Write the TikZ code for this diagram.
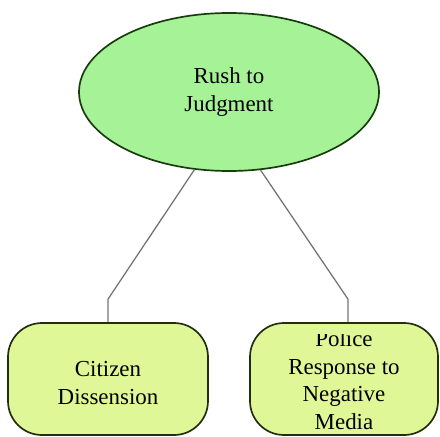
\documentclass[tikz,border=0pt]{standalone}
\usepackage{fontspec}
\setmainfont{Liberation Serif}
\usetikzlibrary{
    shapes.geometric,
    positioning,
    calc
}
\definecolor{topgreen}{RGB}{166,242,150}
\definecolor{topedge}{RGB}{25,60,15}
\definecolor{subfill}{RGB}{224,247,152}
\definecolor{subedge}{RGB}{35,45,15}
\definecolor{linkgray}{RGB}{115,115,115}
\newcommand{\mapfont}{\fontsize{16.3}{19.6}\selectfont}

\begin{document}
\begin{tikzpicture}[
        topic/.style={ellipse, draw=topedge, line width=1.2pt, fill=topgreen, minimum width=7.5cm, minimum height=3.95cm, align=center, font=\mapfont},
        sub/.style={draw=subedge, line width=1.2pt, fill=subfill, rounded corners=0.85cm, minimum height=2.8cm},
        txt/.style={align=center, font=\mapfont},
        link/.style={draw=linkgray, line width=0.9pt}
    ]
        \useasboundingbox (0,0) rectangle (11,10.9);

        % Main topic
        \node[topic] (rush) at (5.725, 8.6) {Rush to\\Judgment};

        % Sub topics
        \node[sub, minimum width=5cm] (citizen) at (2.7, 1.425) {};
        \node[txt] (citizentext) at ([yshift=-0.1cm]citizen.center) {Citizen\\Dissension};
        \node[sub, minimum width=4.7cm] (police) at (8.6, 1.425) {};

        % Right box text runs over, so clip it
        \begin{scope}
            \clip ($(police.west)+(0,1.125)$) rectangle ($(police.east)+(0,-1.3)$);
            \node[txt] (policetext) at ([yshift=-0.03cm]police.center) {Police\\Response to\\Negative\\Media};
        \end{scope}

        % Links
        \draw[link] (rush.246) -- ($(citizen.north)+(0,0.575)$) -- (citizen.north);
        \draw[link] (rush.292) -- ($(police.north)+(0.1,0.575)$) -- ([xshift=0.1cm]police.north);
    \end{tikzpicture}
\end{document}
